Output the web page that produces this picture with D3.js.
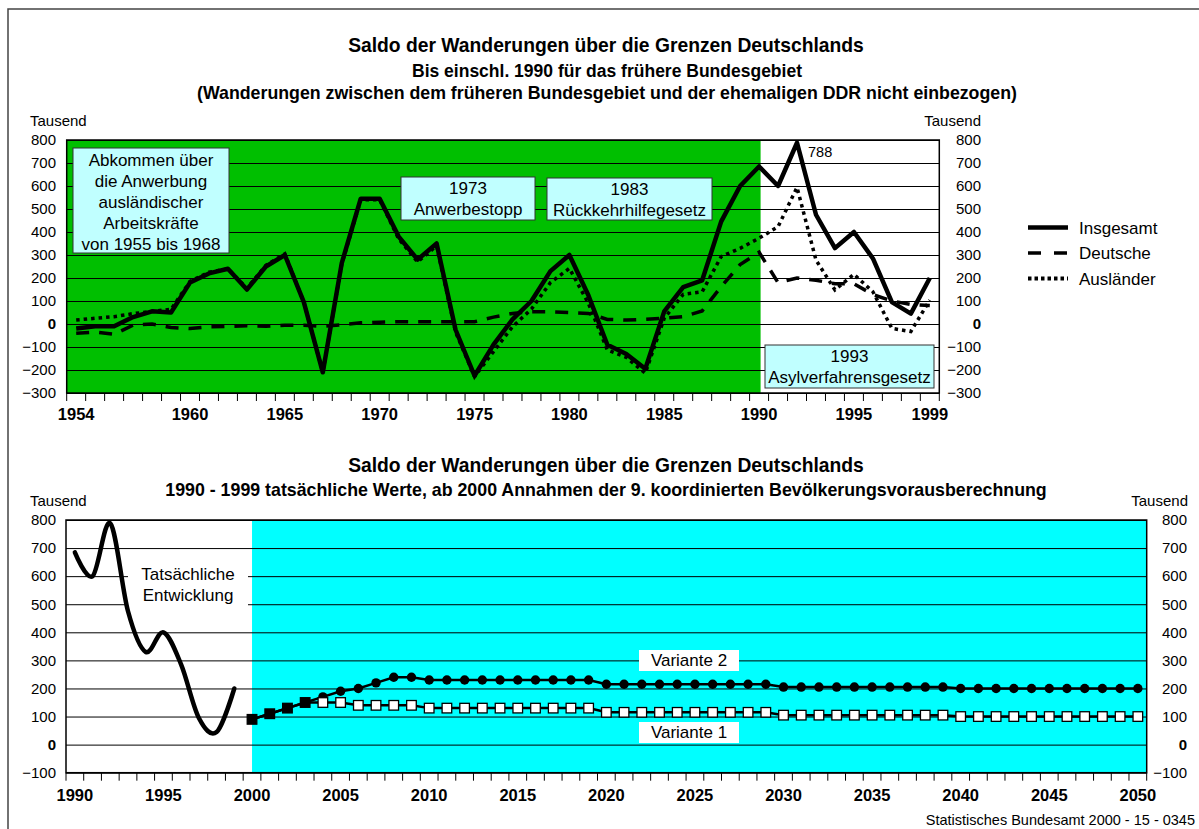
<!DOCTYPE html>
<html>
<head>
<meta charset="utf-8">
<script src="https://d3js.org/d3.v7.min.js"></script>
<style>
body { margin: 0; background: #fff; }
svg { display: block; font-family: "Liberation Sans", Arial, sans-serif; }
</style>
</head>
<body>
<div id="chart"></div>
<script>
// ---------- Daten oben: Saldo 1954-1999 (Tausend) ----------
var years1 = d3.range(1954, 2000);
var insgesamt = [-20, -10, -10, 30, 55, 50, 180, 220, 240, 150,
                 250, 300, 95, -210, 265, 545, 545, 380, 280, 350,
                 -25, -225, -90, 20, 100, 230, 300, 125, -90, -130,
                 -195, 55, 160, 190, 445, 600, 685, 600, 788, 475,
                 330, 400, 285, 95, 45, 200];
var deutsche = [-40, -35, -45, -5, 0, -15, -20, -12, -10, -8,
                -10, -5, -5, -10, -3, 5, 8, 10, 10, 10,
                10, 10, 30, 46, 53, 53, 50, 46, 20, 17,
                20, 25, 32, 57, 162, 258, 312, 180, 200, 190,
                175, 175, 128, 100, 85, 80];
var auslaender = [17, 25, 32, 45, 55, 64, 185, 225, 240, 155,
                  255, 305, 95, -210, 260, 540, 540, 370, 270, 340,
                  -35, -229, -120, -12, 65, 180, 242, 90, -113, -145,
                  -214, 25, 129, 140, 293, 329, 373, 423, 594, 278,
                  148, 216, 140, -19, -33, 104];
var yearLabels1 = [1954, 1960, 1965, 1970, 1975, 1980, 1985, 1990, 1995, 1999];
var yTicks1 = [-300, -200, -100, 0, 100, 200, 300, 400, 500, 600, 700, 800];

// ---------- Daten unten: 1990-2050 ----------
var years2 = d3.range(1990, 2051);
var actualYears = d3.range(1990, 2000);
var tatsaechlich = [685, 600, 788, 475, 330, 400, 285, 95, 45, 200];
var projYears = d3.range(2000, 2051);
var variante2 = [90, 110, 130, 150, 170, 190, 200, 220, 240, 240,
                 230, 230, 230, 230, 230, 230, 230, 230, 230, 230,
                 215, 215, 215, 215, 215, 215, 215, 215, 215, 215,
                 205, 205, 205, 205, 205, 205, 205, 205, 205, 205,
                 200, 200, 200, 200, 200, 200, 200, 200, 200, 200, 200];
var variante1 = [90, 110, 130, 150, 150, 150, 140, 140, 140, 140,
                 130, 130, 130, 130, 130, 130, 130, 130, 130, 130,
                 115, 115, 115, 115, 115, 115, 115, 115, 115, 115,
                 105, 105, 105, 105, 105, 105, 105, 105, 105, 105,
                 100, 100, 100, 100, 100, 100, 100, 100, 100, 100, 100];
var yearLabels2 = [1990, 1995, 2000, 2005, 2010, 2015, 2020, 2025, 2030, 2035, 2040, 2045, 2050];
var yTicks2 = [-100, 0, 100, 200, 300, 400, 500, 600, 700, 800];

var W = 1199, H = 829;
var svg = d3.select("#chart").append("svg")
    .attr("width", W)
    .attr("height", H);

// Rahmen
svg.append("path")
    .attr("d", "M8," + H + "V9H" + W)
    .attr("fill", "none")
    .attr("stroke", "#444")
    .attr("stroke-width", 1.5);

function title(x, y, size, txt) {
    svg.append("text")
        .attr("x", x).attr("y", y)
        .attr("text-anchor", "middle")
        .attr("font-weight", "bold")
        .attr("font-size", size)
        .text(txt);
}

function plain(x, y, size, anchor, txt) {
    return svg.append("text")
        .attr("x", x).attr("y", y)
        .attr("text-anchor", anchor)
        .attr("font-size", size)
        .text(txt);
}

// Textbox mit Rand (Annotationen)
function box(x, y, w, h, fill, stroke, lines, size, lineH, firstBase) {
    svg.append("rect")
        .attr("x", x).attr("y", y).attr("width", w).attr("height", h)
        .attr("fill", fill)
        .attr("stroke", stroke)
        .attr("stroke-width", stroke == "none" ? 0 : 1);
    lines.forEach(function(t, i) {
        plain(x + w / 2, y + firstBase + i * lineH, size, "middle", t);
    });
}

// Achsen und Gitter fuer beide Diagramme
function frame(x, y, yTicks, labels, leftLabelX, rightLabelX, xPad) {
    var x0 = x.range()[0], x1 = x.range()[1];
    var yb = y.range()[0], yt = y.range()[1];

    // Gitterlinien
    svg.append("g")
        .attr("transform", "translate(" + x0 + ",0)")
        .call(d3.axisLeft(y).tickValues(yTicks).tickSize(-(x1 - x0)).tickFormat(""))
        .call(g => g.select(".domain").remove())
        .selectAll("line").attr("stroke", "#000").attr("stroke-width", 1);

    // linke Beschriftung
    svg.append("g")
        .attr("transform", "translate(" + x0 + ",0)")
        .call(d3.axisLeft(y).tickValues(yTicks).tickSize(0).tickPadding(x0 - leftLabelX))
        .call(g => g.select(".domain").remove())
        .selectAll("text")
        .attr("font-family", null)
        .attr("font-size", 15)
        .attr("fill", "#000")
        .attr("font-weight", d => d === 0 ? "bold" : null);

    // rechte Beschriftung (rechtsbuendig)
    svg.append("g")
        .attr("transform", "translate(" + x1 + ",0)")
        .call(d3.axisRight(y).tickValues(yTicks).tickSize(0).tickPadding(rightLabelX - x1))
        .call(g => g.select(".domain").remove())
        .selectAll("text")
        .attr("text-anchor", "end")
        .attr("font-family", null)
        .attr("font-size", 15)
        .attr("fill", "#000")
        .attr("font-weight", d => d === 0 ? "bold" : null);

    // Jahreszahlen
    svg.append("g")
        .attr("transform", "translate(0," + yb + ")")
        .call(d3.axisBottom(x).tickValues(labels).tickSize(0).tickPadding(xPad))
        .call(g => g.select(".domain").remove())
        .selectAll("text")
        .attr("font-family", null)
        .attr("font-size", 16.5)
        .attr("font-weight", "bold")
        .attr("fill", "#000");

    // Teilstriche zwischen den Kategorien
    var edges = x.domain().map(d => x(d)).concat([x1]);
    svg.append("g").selectAll("line")
        .data(edges)
        .enter().append("line")
        .attr("x1", d => d).attr("x2", d => d)
        .attr("y1", yb).attr("y2", yb + 8)
        .attr("stroke", "#000")
        .attr("stroke-width", 1);

    // Plotrahmen
    svg.append("rect")
        .attr("x", x0).attr("y", yt)
        .attr("width", x1 - x0).attr("height", yb - yt)
        .attr("fill", "none")
        .attr("stroke", "#000")
        .attr("stroke-width", 1.5);
}

// =================== oberes Diagramm ===================
title(606, 52, 19.3, "Saldo der Wanderungen über die Grenzen Deutschlands");
title(607, 77, 17.5, "Bis einschl. 1990 für das frühere Bundesgebiet");
title(607, 99, 17.75, "(Wanderungen zwischen dem früheren Bundesgebiet und der ehemaligen DDR nicht einbezogen)");

var xA = d3.scaleBand().domain(years1).range([66.7, 939.3]);
var yA = d3.scaleLinear().domain([-300, 800]).range([393, 140]);
var cA = d => xA(d) + xA.bandwidth() / 2;

plain(30, 126, 15, "start", "Tausend");
plain(981, 126, 15, "end", "Tausend");

// gruener Hintergrund bis 1990
svg.append("rect")
    .attr("x", xA.range()[0]).attr("y", yA(800))
    .attr("width", cA(1990) - xA.range()[0] + 1.5)
    .attr("height", yA(-300) - yA(800))
    .attr("fill", "#00bf00");

frame(xA, yA, yTicks1, yearLabels1, 56, 981, 15);

// Annotationen
var cyanBox = "#c0ffff";
box(73, 148, 156, 105, cyanBox, "#333",
    ["Abkommen über", "die Anwerbung", "ausländischer", "Arbeitskräfte", "von 1955 bis 1968"], 17, 21, 18);
box(401, 177, 134, 43, cyanBox, "#333", ["1973", "Anwerbestopp"], 17, 21, 17);
box(547, 178, 165, 42, cyanBox, "#333", ["1983", "Rückkehrhilfegesetz"], 17, 21, 17);
box(765, 345, 169, 43, cyanBox, "#333", ["1993", "Asylverfahrensgesetz"], 17, 21, 17);

var lineA = d3.line()
    .x((d, i) => cA(years1[i]))
    .y(d => yA(d));

svg.append("path").datum(deutsche)
    .attr("d", lineA)
    .attr("fill", "none").attr("stroke", "#000")
    .attr("stroke-width", 3.5)
    .attr("stroke-dasharray", "13,10");

svg.append("path").datum(auslaender)
    .attr("d", lineA)
    .attr("fill", "none").attr("stroke", "#000")
    .attr("stroke-width", 3.5)
    .attr("stroke-dasharray", "3.5,4");

svg.append("path").datum(insgesamt)
    .attr("d", lineA)
    .attr("fill", "none").attr("stroke", "#000")
    .attr("stroke-width", 4.5)
    .attr("stroke-linejoin", "round");

plain(cA(1992) + 11, yA(788) + 14, 14.5, "start", "788");

// Legende
var legend = [
    {name: "Insgesamt", dash: null, w: 4.5},
    {name: "Deutsche", dash: "13,13", w: 3.5},
    {name: "Ausländer", dash: "3.5,3", w: 4}
];
legend.forEach(function(d, i) {
    var ly = 227.5 + i * 25.5;
    svg.append("line")
        .attr("x1", 1028).attr("x2", 1068)
        .attr("y1", ly).attr("y2", ly)
        .attr("stroke", "#000")
        .attr("stroke-width", d.w)
        .attr("stroke-dasharray", d.dash);
    plain(1079, ly + 6, 17, "start", d.name);
});

// =================== unteres Diagramm ===================
title(606, 472, 19.3, "Saldo der Wanderungen über die Grenzen Deutschlands");
title(606, 496, 17.8, "1990 - 1999 tatsächliche Werte, ab 2000 Annahmen der 9. koordinierten Bevölkerungsvorausberechnung");

var xB = d3.scaleBand().domain(years2).range([66, 1146.7]);
var yB = d3.scaleLinear().domain([-100, 800]).range([772.7, 520]);
var cB = d => xB(d) + xB.bandwidth() / 2;

plain(30, 505.5, 15, "start", "Tausend");
plain(1188, 505.5, 15, "end", "Tausend");

// Hintergrund Vorausberechnung ab 2000
svg.append("rect")
    .attr("x", cB(2000)).attr("y", yB(800))
    .attr("width", xB.range()[1] - cB(2000))
    .attr("height", yB(-100) - yB(800))
    .attr("fill", "#00ffff");

frame(xB, yB, yTicks2, yearLabels2, 56, 1187, 16.5);

// Beschriftung tatsaechliche Entwicklung
box(128, 562, 120, 45, "#fff", "none", ["Tatsächliche", "Entwicklung"], 17, 21, 18);

svg.append("path").datum(tatsaechlich)
    .attr("d", d3.line()
        .x((d, i) => cB(actualYears[i]))
        .y(d => yB(d))
        .curve(d3.curveCatmullRom.alpha(0)))
    .attr("fill", "none").attr("stroke", "#000")
    .attr("stroke-width", 4.5)
    .attr("stroke-linecap", "round");

var lineB = d3.line()
    .x((d, i) => cB(projYears[i]))
    .y(d => yB(d));

// Variante 2
svg.append("path").datum(variante2)
    .attr("d", lineB)
    .attr("fill", "none").attr("stroke", "#000")
    .attr("stroke-width", 2.5);
svg.append("g").selectAll("circle")
    .data(variante2)
    .enter().append("circle")
    .attr("cx", (d, i) => cB(projYears[i]))
    .attr("cy", d => yB(d))
    .attr("r", 4.7)
    .attr("fill", "#000");

// Variante 1
svg.append("path").datum(variante1)
    .attr("d", lineB)
    .attr("fill", "none").attr("stroke", "#000")
    .attr("stroke-width", 2.5);
svg.append("g").selectAll("rect")
    .data(variante1)
    .enter().append("rect")
    .attr("x", (d, i) => cB(projYears[i]) - 4.8)
    .attr("y", d => yB(d) - 4.8)
    .attr("width", 9.6).attr("height", 9.6)
    .attr("fill", (d, i) => d === variante2[i] ? "#000" : "#fff")
    .attr("stroke", "#000")
    .attr("stroke-width", 1.3);

box(639, 650, 100, 21, "#fff", "none", ["Variante 2"], 17, 0, 16);
box(639, 722, 100, 21, "#fff", "none", ["Variante 1"], 17, 0, 16);

plain(1195, 825, 14.5, "end", "Statistisches Bundesamt 2000 - 15 - 0345");
</script>
</body>
</html>
